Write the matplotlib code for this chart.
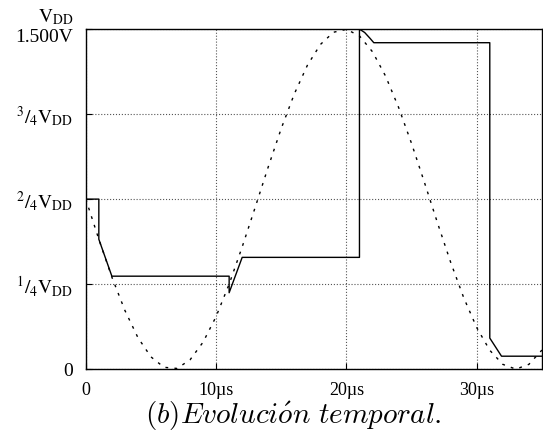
import matplotlib
matplotlib.use("Agg")
import matplotlib.pyplot as plt

plt.rcParams['mathtext.fontset'] = 'stix'
plt.rcParams['font.family'] = ['Liberation Serif', 'DejaVu Serif']

# Dashed reference (input sine)
t_in = [0, 1, 2, 3, 4, 5, 6, 7, 8, 9, 10, 11, 12, 13, 14, 15, 16, 17, 18,
        19, 20, 21, 22, 23, 24, 25, 26, 27, 28, 29, 30, 31, 32, 33, 34, 35]
v_in = [0.75, 0.573, 0.406, 0.259, 0.139, 0.054, 0.008, 0.003, 0.041, 0.119,
        0.232, 0.375, 0.539, 0.714, 0.892, 1.062, 1.214, 1.340, 1.432, 1.486,
        1.499, 1.470, 1.400, 1.293, 1.155, 0.995, 0.821, 0.643, 0.471, 0.315,
        0.183, 0.083, 0.021, 0.0, 0.021, 0.084]

# Solid output (sampled / held signal)
t_out = [0, 1.0, 1.0, 2.0, 11.0, 11.0, 12.0, 21.0, 21.0, 21.4, 21.8, 22.1,
         31.0, 31.0, 31.9, 35]
v_out = [0.75, 0.75, 0.573, 0.41, 0.41, 0.337, 0.493, 0.493, 1.5, 1.485,
         1.46, 1.44, 1.44, 0.137, 0.057, 0.057]

x_ticks = [0, 10, 20, 30]
x_labels = ['0', '10µs', '20µs', '30µs']
y_ticks = [0, 0.375, 0.75, 1.125, 1.5]
y_labels = ['0', r'$^{1}/_{4}\mathrm{V_{DD}}$', r'$^{2}/_{4}\mathrm{V_{DD}}$',
            r'$^{3}/_{4}\mathrm{V_{DD}}$', '']

fig = plt.figure(figsize=(5.43, 4.41), dpi=100)
ax = fig.add_axes([0.158, 0.163, 0.840, 0.771])

ax.plot(t_in, v_in, color='black', lw=1.0, linestyle=(0, (2, 4.5)))
ax.plot(t_out, v_out, color='black', lw=1.0)

ax.set_xlim(0, 35)
ax.set_ylim(0, 1.5)
ax.set_xticks(x_ticks)
ax.set_xticklabels(x_labels, fontsize=13)
ax.set_yticks(y_ticks)
ax.set_yticklabels(y_labels, fontsize=14)
ax.tick_params(direction='in', length=4, width=0.8)
ax.tick_params(axis='x', pad=9)
ax.tick_params(axis='y', pad=9)
ax.grid(True, color='#555555', linestyle=':', linewidth=0.8)
for s in ax.spines.values():
    s.set_linewidth(1.0)

fig.text(0.135, 1 - 38 / 441, '1.500V', fontsize=14, ha='right', va='center')
fig.text(0.135, 1 - 17 / 441, r'$\mathrm{V_{DD}}$', fontsize=14, ha='right', va='center')
fig.text(0.54, 1 - 416 / 441, r'$\mathit{(b)Evoluci\acute{o}n\ temporal.}$',
         fontsize=21, ha='center', va='center', math_fontfamily='cm')

fig.savefig('out.png', dpi=100)
